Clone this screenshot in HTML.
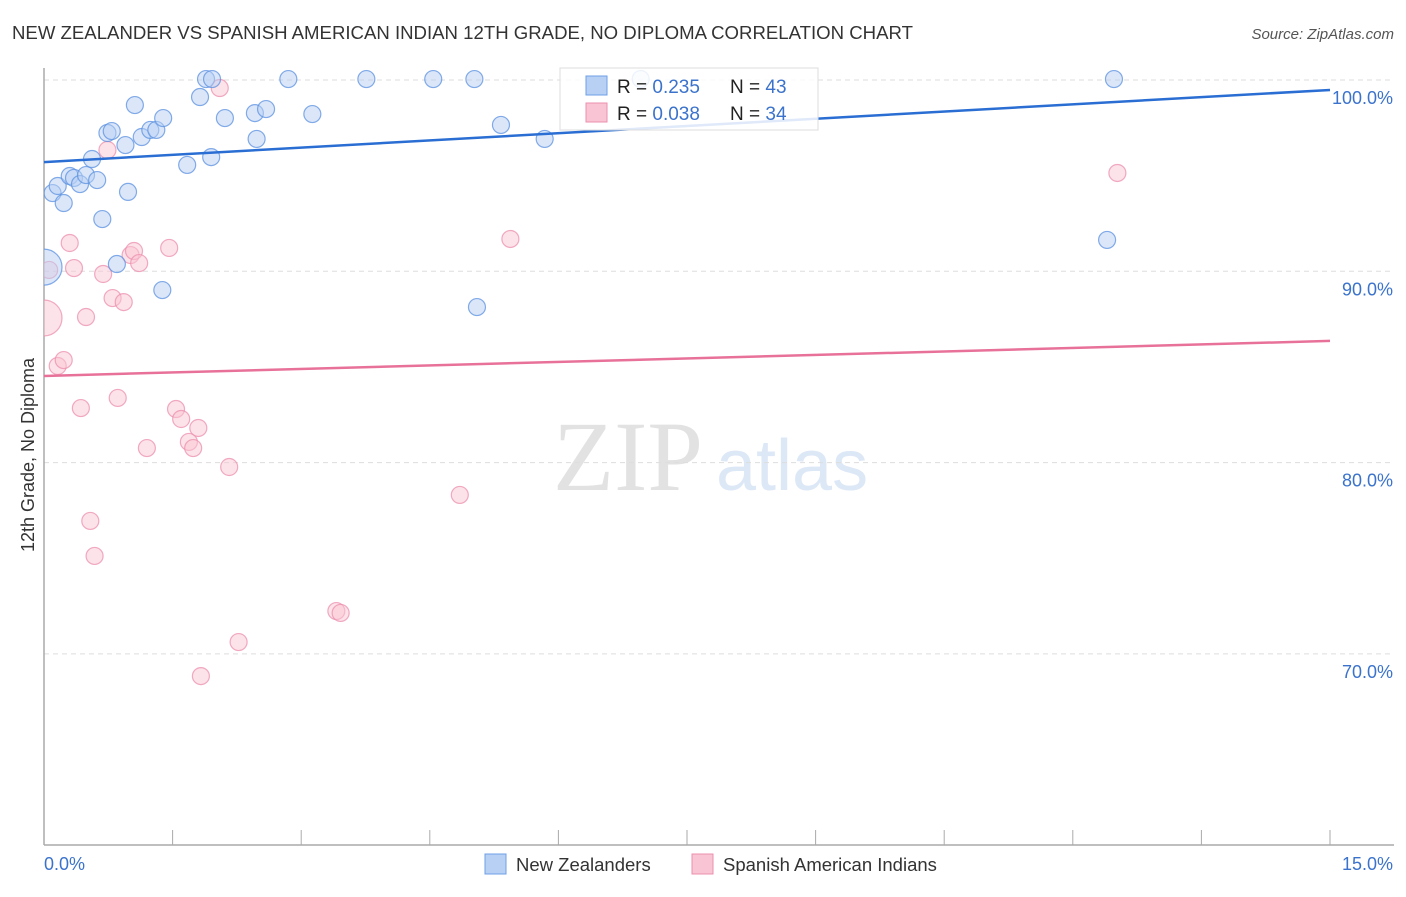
<!DOCTYPE html>
<html><head><meta charset="utf-8"><style>
body{margin:0;background:#fff;width:1406px;height:892px;overflow:hidden;font-family:"Liberation Sans",sans-serif}
</style></head><body>
<svg id="chart" width="1406" height="892" xmlns="http://www.w3.org/2000/svg" font-family="Liberation Sans, sans-serif">
<defs><clipPath id="plotclip"><rect x="44" y="60" width="1360" height="785"/></clipPath></defs>
<text x="12" y="39" font-size="18.6" fill="#333">NEW ZEALANDER VS SPANISH AMERICAN INDIAN 12TH GRADE, NO DIPLOMA CORRELATION CHART</text>
<text x="1394" y="39" font-size="15" fill="#555" text-anchor="end" font-style="italic">Source: ZipAtlas.com</text>
<g>
<text x="553" y="490" font-family="Liberation Serif, serif" font-size="100" fill="#e2e2e2">ZIP</text>
<text x="716" y="490" font-size="72" fill="#dde8f7">atlas</text>
</g>
<g id="grid"></g>
<g id="axes"></g>
<g id="pts" clip-path="url(#plotclip)"></g>
<g id="trend"></g>
<text transform="translate(34,455) rotate(-90)" font-size="18" fill="#333" text-anchor="middle">12th Grade, No Diploma</text>
<g>
<rect x="560" y="68" width="258" height="62" fill="#fff" fill-opacity="0.85" stroke="#ddd"/>
<rect x="586" y="76" width="21" height="19" fill="#b8d0f4" stroke="#6d9fe6"/>
<rect x="586" y="103" width="21" height="19" fill="#f9c5d4" stroke="#ec8fae"/>
<text x="617" y="93" font-size="19" fill="#222">R = <tspan fill="#3b73cc">0.235</tspan><tspan x="730">N = </tspan><tspan fill="#3b73cc">43</tspan></text>
<text x="617" y="120" font-size="19" fill="#222">R = <tspan fill="#3b73cc">0.038</tspan><tspan x="730">N = </tspan><tspan fill="#3b73cc">34</tspan></text>
</g>
<g>
<rect x="485" y="854" width="21" height="20" fill="#b8d0f4" stroke="#6d9fe6"/>
<text x="516" y="871" font-size="18.5" fill="#333">New Zealanders</text>
<rect x="692" y="854" width="21" height="20" fill="#f9c5d4" stroke="#ec8fae"/>
<text x="723" y="871" font-size="18.5" fill="#333">Spanish American Indians</text>
</g>
</svg>
<script>
const blueX=[0,0.10,0.16,0.23,0.30,0.35,0.42,0.49,0.56,0.62,0.68,0.74,0.79,0.85,0.95,0.98,1.06,1.14,1.24,1.31,1.38,1.39,1.67,1.82,1.89,1.96,1.95,2.11,2.48,2.46,2.59,2.85,3.13,3.76,4.54,5.02,5.05,5.33,5.84,6.96,12.40,12.48];
const blueY=[90.22,94.09,94.46,93.57,94.98,94.88,94.56,95.03,95.87,94.77,92.73,97.23,97.33,90.38,96.60,94.15,98.69,97.02,97.39,97.39,89.02,98.01,95.56,99.11,100.05,100.05,95.97,98.01,96.92,98.27,98.48,100.05,98.22,100.05,100.05,100.05,88.13,97.65,96.92,100.05,91.64,100.05];
const pinkX=[0,0.06,0.16,0.23,0.30,0.35,0.43,0.49,0.54,0.59,0.69,0.74,0.80,0.86,0.93,1.01,1.05,1.11,1.20,1.46,1.54,1.60,1.69,1.74,1.80,2.05,2.16,2.27,1.83,3.41,3.46,4.85,5.44,12.52];
const pinkY=[87.56,90.07,85.05,85.36,91.48,90.17,82.85,87.61,76.95,75.12,89.86,96.34,88.60,83.38,88.39,90.85,91.06,90.43,80.76,91.22,82.80,82.28,81.08,80.76,81.81,99.58,79.77,70.62,68.84,72.24,72.14,78.31,91.69,95.14];
const blueTrend=[95.71,99.48];
const pinkTrend=[84.53,86.36];
const yTicks=[100,90,80,70];
const xTickLabels=["0.0%","15.0%"];
const NS="http://www.w3.org/2000/svg";
const sx=v=>44+v/15*1286;
const sy=v=>80+(100-v)*19.13;
function mk(tag,at,parent){const e=document.createElementNS(NS,tag);for(const k in at)e.setAttribute(k,at[k]);document.getElementById(parent).appendChild(e);return e;}
yTicks.forEach(t=>{
 const l=mk('line',{x1:44,x2:1394,y1:sy(t),y2:sy(t),stroke:'#ddd','stroke-dasharray':'5,4'},'grid');
 
 
 const tx=mk('text',{x:1393,y:sy(t)+24,'font-size':18,fill:'#3b73cc','text-anchor':'end'},'grid');
 tx.textContent=t.toFixed(1)+'%';
 
 
});
const ax=mk('line',{x1:44,x2:44,y1:68,y2:845,stroke:'#aaa','stroke-width':1.5},'axes');


const bx=mk('line',{x1:44,x2:1394,y1:845,y2:845,stroke:'#aaa','stroke-width':1.5},'axes');


for(let i=0;i<=10;i++){const t=mk('line',{x1:sx(i*1.5),x2:sx(i*1.5),y1:830,y2:845,stroke:'#aaa'},'axes');
 
 }
const xl0=mk('text',{x:44,y:870,'font-size':18,fill:'#3b73cc'},'axes');xl0.textContent=xTickLabels[0];


const xl1=mk('text',{x:1393,y:870,'font-size':18,fill:'#3b73cc','text-anchor':'end'},'axes');xl1.textContent=xTickLabels[1];


function pts(X,Y,fill,stroke,name){X.forEach((x,i)=>{const c=mk('circle',{cx:sx(x),cy:sy(Y[i]),r:i===0?18:8.5,fill:fill,'fill-opacity':0.5,stroke:stroke,'stroke-opacity':0.75,'stroke-width':1.2},'pts');
 
 });}
pts(pinkX,pinkY,'#f9c5d4','#ec8fae','spanish-american-indian-point');
pts(blueX,blueY,'#b8d0f4','#5b90e0','new-zealander-point');
const bt=mk('line',{x1:sx(0),x2:sx(15),y1:sy(blueTrend[0]),y2:sy(blueTrend[1]),stroke:'#2a6ed3','stroke-width':2.5},'trend');


const pt=mk('line',{x1:sx(0),x2:sx(15),y1:sy(pinkTrend[0]),y2:sy(pinkTrend[1]),stroke:'#e8719a','stroke-width':2.5},'trend');


</script>
</body></html>
